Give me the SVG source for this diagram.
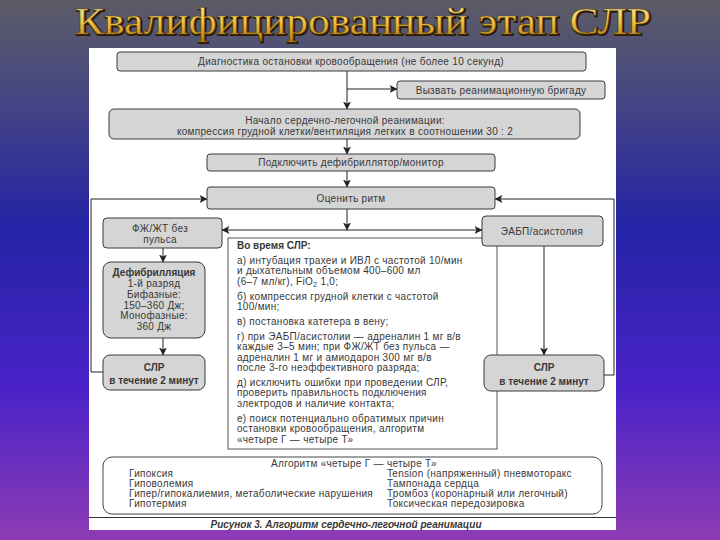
<svg xmlns="http://www.w3.org/2000/svg" width="720" height="540" viewBox="0 0 720 540">
<defs>
<linearGradient id="bg" x1="0" y1="0" x2="0" y2="1">
<stop offset="0" stop-color="#5c5c66"/>
<stop offset="0.15" stop-color="#4a4a7e"/>
<stop offset="0.42" stop-color="#2424a6"/>
<stop offset="0.72" stop-color="#4a22c8"/>
<stop offset="1" stop-color="#8e3cb4"/>
</linearGradient>
<linearGradient id="gold" x1="0" y1="0" x2="0" y2="1">
<stop offset="0" stop-color="#fff4b8"/>
<stop offset="0.5" stop-color="#f2c445"/>
<stop offset="1" stop-color="#b47a12"/>
</linearGradient>
<marker id="ah" markerWidth="8" markerHeight="8" refX="7.5" refY="4" orient="auto" markerUnits="userSpaceOnUse">
<path d="M0,0 L8,4 L0,8 L2,4 z" fill="#222"/>
</marker>
<style>
.box{fill:#d5d5d5;stroke:#3a3a3a;stroke-width:1}
.t{font-family:"Liberation Sans",Arial,sans-serif;font-size:10px;letter-spacing:0.3px;fill:#383838}
.c{text-anchor:middle}
.b{font-weight:bold;letter-spacing:0px}
.con{fill:none;stroke:#222;stroke-width:1}
.arr{marker-end:url(#ah)}
</style>
</defs>
<rect x="0" y="0" width="720" height="540" fill="url(#bg)"/>
<rect x="89" y="48" width="527" height="482" fill="#ffffff"/>
<g id="title">
<text x="76" y="35" font-family="'Liberation Serif','Times New Roman',serif" font-size="37" textLength="576" lengthAdjust="spacingAndGlyphs" fill="#2a1c08" stroke="#2a1c08" stroke-width="2">Квалифицированный этап СЛР</text>
<text x="75" y="34" font-family="'Liberation Serif','Times New Roman',serif" font-size="37" textLength="576" lengthAdjust="spacingAndGlyphs" fill="url(#gold)" stroke="#6a4a10" stroke-width="0.5">Квалифицированный этап СЛР</text>
</g>
<g id="connectors">
<line class="con arr" x1="347" y1="71" x2="347" y2="109"/>
<line class="con arr" x1="347" y1="89" x2="397" y2="89"/>
<line class="con arr" x1="347" y1="139" x2="347" y2="154"/>
<line class="con arr" x1="347" y1="171" x2="347" y2="187"/>
<line class="con arr" x1="347" y1="209" x2="347" y2="230"/>
<line class="con arr" x1="347" y1="230" x2="222" y2="230"/>
<line class="con arr" x1="347" y1="230" x2="482" y2="230"/>
<line class="con arr" x1="163" y1="248" x2="163" y2="262"/>
<line class="con arr" x1="163" y1="338" x2="163" y2="355"/>
<line class="con arr" x1="544" y1="246" x2="544" y2="355"/>
<polyline class="con arr" points="103,372 91,372 91,199 207,199"/>
<polyline class="con arr" points="604,375 614,375 614,199 495,199"/>
</g>
<g id="n_during">
<rect x="228" y="238" width="269" height="211" fill="#ffffff" stroke="#555" stroke-width="1"/>
<text class="t b" x="237" y="248.5" fill="#222">Во время СЛР:</text>
<text class="t" x="237" y="263.5">а) интубация трахеи и ИВЛ с частотой 10/мин</text>
<text class="t" x="237" y="274">и дыхательным объемом 400–600 мл</text>
<text class="t" x="237" y="284.5">(6–7 мл/кг), FiO<tspan font-size="7" dy="2">2</tspan><tspan dy="-2"> 1,0;</tspan></text>
<text class="t" x="237" y="299.5">б) компрессия грудной клетки с частотой</text>
<text class="t" x="237" y="310">100/мин;</text>
<text class="t" x="237" y="324.5">в) постановка катетера в вену;</text>
<text class="t" x="237" y="339.5">г) при ЭАБП/асистолии — адреналин 1 мг в/в</text>
<text class="t" x="237" y="350">каждые 3–5 мин; при ФЖ/ЖТ без пульса —</text>
<text class="t" x="237" y="360.5">адреналин 1 мг и амиодарон 300 мг в/в</text>
<text class="t" x="237" y="371">после 3-го неэффективного разряда;</text>
<text class="t" x="237" y="385.5">д) исключить ошибки при проведении СЛР,</text>
<text class="t" x="237" y="396">проверить правильность подключения</text>
<text class="t" x="237" y="406.5">электродов и наличие контакта;</text>
<text class="t" x="237" y="421.5">е) поиск потенциально обратимых причин</text>
<text class="t" x="237" y="432">остановки кровообращения, алгоритм</text>
<text class="t" x="237" y="442.5">«четыре Г — четыре Т»</text>
</g>
<g id="n_diag">
<rect class="box" x="117" y="52" width="469" height="19" rx="3"/>
<text class="t c" x="351" y="65">Диагностика остановки кровообращения (не более 10 секунд)</text>
</g>
<g id="n_call">
<rect class="box" x="397" y="81" width="208" height="18" rx="3"/>
<text class="t c" x="501" y="93.5">Вызвать реанимационную бригаду</text>
</g>
<g id="n_start">
<rect class="box" x="109" y="109" width="471" height="30" rx="5"/>
<text class="t c" x="345" y="123.5">Начало сердечно-легочной реанимации:</text>
<text class="t c" x="345" y="134.5">компрессия грудной клетки/вентиляция легких в соотношении 30 : 2</text>
</g>
<g id="n_defmon">
<rect class="box" x="207" y="154" width="288" height="17" rx="3"/>
<text class="t c" x="351" y="166">Подключить дефибриллятор/монитор</text>
</g>
<g id="n_rhythm">
<rect class="box" x="207" y="187" width="288" height="22" rx="3"/>
<text class="t c" x="351" y="201.5" font-size="10.5">Оценить ритм</text>
</g>
<g id="n_vf">
<rect class="box" x="103" y="218" width="119" height="30" rx="4"/>
<text class="t c" x="160" y="231.5">ФЖ/ЖТ без</text>
<text class="t c" x="160" y="242.5">пульса</text>
</g>
<g id="n_asys">
<rect class="box" x="482" y="216" width="121" height="30" rx="4"/>
<text class="t c" x="542" y="234.5">ЭАБП/асистолия</text>
</g>
<g id="n_defib">
<rect class="box" x="103" y="262" width="102" height="76" rx="8"/>
<text class="t c b" x="154" y="276" font-size="10.5" fill="#222">Дефибрилляция</text>
<text class="t c" x="154" y="287">1-й разряд</text>
<text class="t c" x="154" y="297.5">Бифазные:</text>
<text class="t c" x="154" y="308.5">150–360 Дж;</text>
<text class="t c" x="154" y="318.5">Монофазные:</text>
<text class="t c" x="154" y="329.5">360 Дж</text>
</g>
<g id="n_cpr_left">
<rect class="box" x="103" y="355" width="102" height="35" rx="7"/>
<text class="t c b" x="154" y="371" font-size="11" fill="#222">СЛР</text>
<text class="t c b" x="154" y="384" font-size="9.8" fill="#222">в течение 2 минут</text>
</g>
<g id="n_cpr_right">
<rect class="box" x="484" y="355" width="120" height="36" rx="7"/>
<text class="t c b" x="544" y="371" font-size="11" fill="#222">СЛР</text>
<text class="t c b" x="544" y="384.5" font-size="9.8" fill="#222">в течение 2 минут</text>
</g>
<g id="n_algo">
<rect x="103" y="457" width="499" height="57" rx="9" fill="#ffffff" stroke="#444" stroke-width="1"/>
<text class="t c" x="354" y="466.5">Алгоритм «четыре Г — четыре Т»</text>
<text class="t" x="129" y="476.5">Гипоксия</text>
<text class="t" x="129" y="486.5">Гиповолемия</text>
<text class="t" x="129" y="496.5">Гипер/гипокалиемия, метаболические нарушения</text>
<text class="t" x="129" y="506.5">Гипотермия</text>
<text class="t" x="387" y="476.5">Tension (напряженный) пневмоторакс</text>
<text class="t" x="387" y="486.5">Тампонада сердца</text>
<text class="t" x="387" y="496.5">Тромбоз (коронарный или легочный)</text>
<text class="t" x="387" y="506.5">Токсическая передозировка</text>
</g>
<g id="caption">
<line x1="89" y1="517.5" x2="616" y2="517.5" stroke="#333" stroke-width="1"/>
<text class="t c b" x="346" y="528" font-style="italic" font-size="11" letter-spacing="0.3" fill="#222">Рисунок 3. Алгоритм сердечно-легочной реанимации</text>
</g>
</svg>
